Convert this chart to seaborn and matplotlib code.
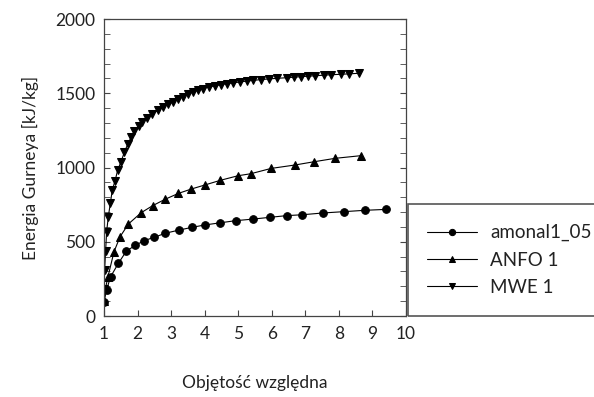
import numpy as np
import pandas as pd
import matplotlib
matplotlib.use("Agg")
import matplotlib.pyplot as plt
import seaborn as sns
from matplotlib.patches import Rectangle
from matplotlib.ticker import MultipleLocator

# Data
amonal_x = [1.00, 1.08, 1.20, 1.43, 1.67, 1.93, 2.20, 2.50, 2.82, 3.24, 3.62,
            4.00, 4.47, 4.92, 5.45, 5.96, 6.44, 6.91, 7.53, 8.16, 8.78, 9.40]
amonal_y = [92, 178, 265, 355, 438, 475, 508, 530, 557, 579, 597,
            613, 628, 642, 653, 665, 676, 682, 694, 703, 712, 718]

anfo_x = [1.00, 1.04, 1.12, 1.30, 1.48, 1.73, 2.11, 2.45, 2.82, 3.22, 3.60,
          4.00, 4.47, 5.00, 5.37, 5.98, 6.69, 7.26, 7.89, 8.66]
anfo_y = [100, 180, 265, 433, 534, 620, 696, 743, 786, 826, 855,
          882, 914, 945, 958, 994, 1017, 1039, 1062, 1080]

mwe_x = [1.00, 1.02, 1.05, 1.08, 1.13, 1.19, 1.25, 1.33, 1.41, 1.51, 1.61,
         1.71, 1.81, 1.91, 2.03, 2.13, 2.28, 2.44, 2.60, 2.75, 2.90, 3.05,
         3.20, 3.35, 3.50, 3.65, 3.80, 3.95, 4.12, 4.30, 4.48, 4.66, 4.85,
         5.04, 5.25, 5.45, 5.67, 5.92, 6.17, 6.45, 6.65, 6.87, 7.07, 7.29,
         7.55, 7.77, 8.06, 8.31, 8.61]
mwe_y = [185, 310, 440, 568, 669, 759, 850, 910, 983, 1040, 1104,
         1158, 1204, 1245, 1282, 1310, 1336, 1360, 1385, 1405, 1425, 1440,
         1460, 1478, 1495, 1508, 1520, 1532, 1542, 1550, 1558, 1565, 1570,
         1576, 1582, 1587, 1592, 1597, 1601, 1605, 1608, 1612, 1615, 1618,
         1622, 1625, 1628, 1631, 1635]

series = [("amonal1_05", amonal_x, amonal_y, "o"),
          ("ANFO 1", anfo_x, anfo_y, "^"),
          ("MWE 1", mwe_x, mwe_y, "v")]

sns.set_style("white")
plt.rcParams["font.family"] = ["Lato", "DejaVu Sans"]

fig = plt.figure(figsize=(5.94, 3.97), dpi=100)
ax = fig.add_axes([0.175, 0.204, 0.5085, 0.748])

for name, xs, ys, mk in series:
    df = pd.DataFrame({"x": xs, "y": ys})
    sns.lineplot(data=df, x="x", y="y", ax=ax, color="black", lw=0.8,
                 marker=mk, markersize=5.5, markeredgecolor="black",
                 sort=False, label=name)

ax.set_xlim(1, 10)
ax.set_ylim(0, 2000)
ax.xaxis.set_major_locator(MultipleLocator(1))
ax.yaxis.set_major_locator(MultipleLocator(500))
ax.yaxis.set_minor_locator(MultipleLocator(100))
ax.tick_params(axis="both", which="both", direction="in", colors="#444444",
               labelcolor="#222222", labelsize=12.5)
ax.tick_params(axis="y", which="both", right=True, left=True, length=4)
ax.tick_params(axis="x", which="both", bottom=True, length=4, pad=7)
ax.tick_params(axis="y", which="major", pad=6)
for s in ax.spines.values():
    s.set_color("#444444")
    s.set_linewidth(0.9)

ax.set_xlabel("Objętość względna", fontsize=12.5, color="#222222", labelpad=24)
ax.set_ylabel("Energia Gurneya [kJ/kg]", fontsize=12.5, color="#222222",
              labelpad=12)

# Legend sits in its own box to the right of the axes
handles, labels = ax.get_legend_handles_labels()
ax.get_legend().remove()
fig.patches.append(Rectangle((0.687, 0.204), 0.32, 0.282, transform=fig.transFigure,
                             fill=False, edgecolor="#555555", lw=1.2))
fig.legend(handles, labels, loc="center left", bbox_to_anchor=(0.69, 0.345),
           frameon=False, fontsize=13.5, handlelength=2.7, labelspacing=0.55,
           handletextpad=0.7, labelcolor="#222222")
for h in fig.legends[0].legend_handles:
    h.set_markersize(4.5)

fig.savefig("out.png", dpi=100)
